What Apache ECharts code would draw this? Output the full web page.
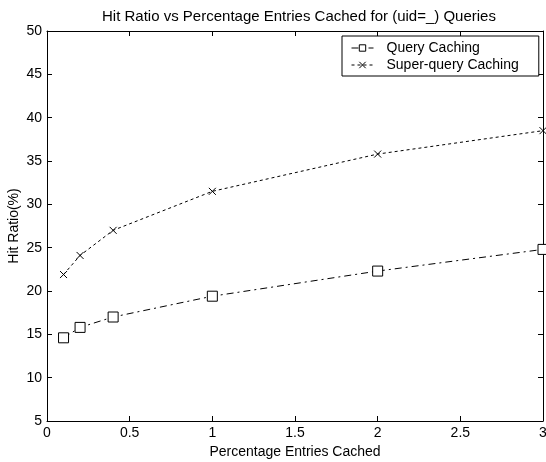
<!DOCTYPE html>
<html>
<head>
<meta charset="utf-8">
<script src="https://cdn.jsdelivr.net/npm/echarts@6/dist/echarts.min.js"></script>
<style>
  html, body { margin: 0; padding: 0; background: #fff; }
  #chart { width: 546px; height: 462px; }
</style>
</head>
<body>
<div id="chart"></div>
<script>
// 数据
var xValues = [0.1, 0.2, 0.4, 1, 2, 3];
var queryCaching = [14.6, 15.8, 17.0, 19.4, 22.3, 24.8];
var superQueryCaching = [21.9, 24.1, 27.0, 31.5, 35.8, 38.5];
var seriesNames = ['Query Caching', 'Super-query Caching'];

function pairs(xs, ys) {
  return xs.map(function (x, i) { return [x, ys[i]]; });
}

var font = 'Liberation Sans';
var chart = echarts.init(document.getElementById('chart'));

// 坐标轴公共样式 (刻度朝内, 黑色)
function tickAxis() {
  return {
    axisLine: { show: true, onZero: false, lineStyle: { color: '#000', width: 1 } },
    axisTick: { show: true, inside: true, length: 5, lineStyle: { color: '#000' } },
    splitLine: { show: false }
  };
}

chart.setOption({
  backgroundColor: '#fff',
  animation: false,
  title: {
    text: 'Hit Ratio vs Percentage Entries Cached for (uid=_) Queries',
    left: 97,
    top: 4,
    textStyle: { fontFamily: font, fontSize: 15, fontWeight: 'normal', color: '#000' }
  },
  grid: { left: 47, right: 3, top: 31, bottom: 41, outerBoundsMode: 'none', containLabel: false },
  legend: {
    orient: 'vertical',
    left: 342,
    top: 36,
    width: 195,
    padding: [5, 20, 4, 9],
    itemGap: 3,
    itemWidth: 22,
    itemHeight: 8,
    borderColor: '#000',
    borderWidth: 1,
    borderRadius: 0,
    backgroundColor: '#fff',
    itemStyle: { borderWidth: 1 },
    lineStyle: { width: 1 },
    textStyle: { fontFamily: font, fontSize: 14, color: '#000', padding: [0, 0, 0, 8] },
    data: seriesNames
  },
  xAxis: [
    Object.assign({
      type: 'value', min: 0, max: 3, interval: 0.5,
      name: 'Percentage Entries Cached',
      nameLocation: 'middle',
      nameGap: 24,
      nameMoveOverlap: false,
      nameTextStyle: { fontFamily: font, fontSize: 14, color: '#000' },
      axisLabel: { fontFamily: font, fontSize: 14, color: '#000', margin: 5, showMaxLabel: true }
    }, tickAxis()),
    Object.assign({
      type: 'value', min: 0, max: 3, interval: 0.5, position: 'top',
      axisLabel: { show: false }
    }, tickAxis())
  ],
  yAxis: [
    Object.assign({
      type: 'value', min: 5, max: 50, interval: 5,
      name: 'Hit Ratio(%)',
      nameLocation: 'middle',
      nameGap: 26,
      nameMoveOverlap: false,
      nameTextStyle: { fontFamily: font, fontSize: 14, color: '#000' },
      axisLabel: { fontFamily: font, fontSize: 14, color: '#000', margin: 5 }
    }, tickAxis()),
    Object.assign({
      type: 'value', min: 5, max: 50, interval: 5, position: 'right',
      axisLabel: { show: false }
    }, tickAxis())
  ],
  series: [
    {
      name: seriesNames[0],
      type: 'line',
      data: pairs(xValues, queryCaching),
      symbol: 'rect',
      symbolSize: 10,
      showAllSymbol: true,
      lineStyle: { color: '#000', width: 1, type: [7, 4, 2, 4] },
      itemStyle: { color: '#fff', borderColor: '#000', borderWidth: 1 },
      z: 3
    },
    {
      name: seriesNames[1],
      type: 'line',
      data: pairs(xValues, superQueryCaching),
      symbol: 'path://M0,0L10,10M10,0L0,10',
      symbolSize: 7,
      showAllSymbol: true,
      lineStyle: { color: '#000', width: 1, type: [3, 3] },
      itemStyle: { color: 'none', borderColor: '#000', borderWidth: 1 },
      z: 3
    }
  ]
});
</script>
</body>
</html>
